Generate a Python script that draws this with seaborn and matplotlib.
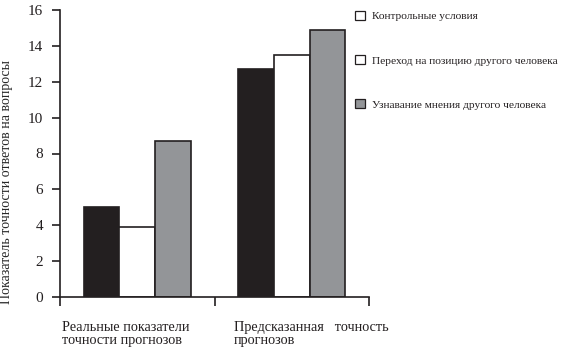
import matplotlib
matplotlib.use("Agg")
import matplotlib.pyplot as plt
from matplotlib.patches import Patch
from matplotlib.transforms import ScaledTranslation
import seaborn as sns
import pandas as pd

# Group labels along the x axis
groups = ["Реальные показатели\nточности прогнозов",
          "Предсказанная   точность\nпрогнозов"]
# Experimental conditions (hue)
conditions = ["Контрольные условия",
              "Переход на позицию другого человека",
              "Узнавание мнения другого человека"]
# Mean accuracy score for each condition within each group
control = [5.0, 12.7]
perspective = [3.9, 13.5]
advice = [8.7, 14.9]
y_ticks = [0, 2, 4, 6, 8, 10, 12, 14, 16]

bar_colors = ["#231f20", "#ffffff", "#939598"]
legend_colors = ["#ffffff", "#ffffff", "#939598"]

df = pd.DataFrame({
    "group": groups * 3,
    "condition": [c for c in conditions for _ in groups],
    "value": control + perspective + advice,
})

sns.set_style("white")
plt.rcParams["font.family"] = ["Liberation Serif", "DejaVu Serif"]

fig = plt.figure(figsize=(5.75, 3.5), dpi=100)
ax = fig.add_axes([60 / 575, 1 - 297 / 350, 309 / 575, 287 / 350])

sns.barplot(data=df, x="group", y="value", hue="condition",
            order=groups, hue_order=conditions,
            palette=bar_colors, width=0.69, gap=0,
            edgecolor="#231f20", linewidth=1.2,
            saturation=1, ax=ax, legend=False)

ax.set_xlim(-0.5, 1.5)
ax.set_ylim(0, 16)
ax.set_yticks(y_ticks)
ax.set_yticklabels([str(t) for t in y_ticks], fontsize=11)

# Group boundaries carry the ticks; labels hang left-aligned from them
ax.set_xticks([-0.5, 0.5, 1.5])
ax.set_xticklabels([groups[0], groups[1], ""], fontsize=10.3,
                   ha="left", linespacing=1.0)
ax.set_xlabel("")
ax.set_ylabel("Показатель точности ответов на вопросы", fontsize=10)
ax.yaxis.set_label_coords(-0.152, 0.40)

for side in ("top", "right"):
    ax.spines[side].set_visible(False)
for side in ("left", "bottom"):
    ax.spines[side].set_linewidth(1.2)
    ax.spines[side].set_color("#231f20")

ax.tick_params(axis="y", direction="out", length=6, width=1.2,
               pad=6, colors="#231f20", left=True)
ax.tick_params(axis="x", direction="out", length=6.5, width=1.2,
               pad=11, colors="#231f20", bottom=True)

# Nudge the category labels to the right of their boundary ticks
for lbl, dx in zip(ax.get_xticklabels(), [2, 19, 0]):
    lbl.set_transform(lbl.get_transform()
                      + ScaledTranslation(dx / 100, 0, fig.dpi_scale_trans))

handles = [Patch(facecolor=c, edgecolor="#231f20", linewidth=0.9)
           for c in legend_colors]
fig.legend(handles, conditions, loc="upper left",
           bbox_to_anchor=(355 / 575, 1 - 11 / 350),
           frameon=False, fontsize=8.2, borderpad=0, borderaxespad=0,
           handlelength=0.85, handleheight=0.85, handletextpad=0.6,
           labelspacing=2.95, labelcolor="#231f20")

fig.savefig("out.png", dpi=100)
